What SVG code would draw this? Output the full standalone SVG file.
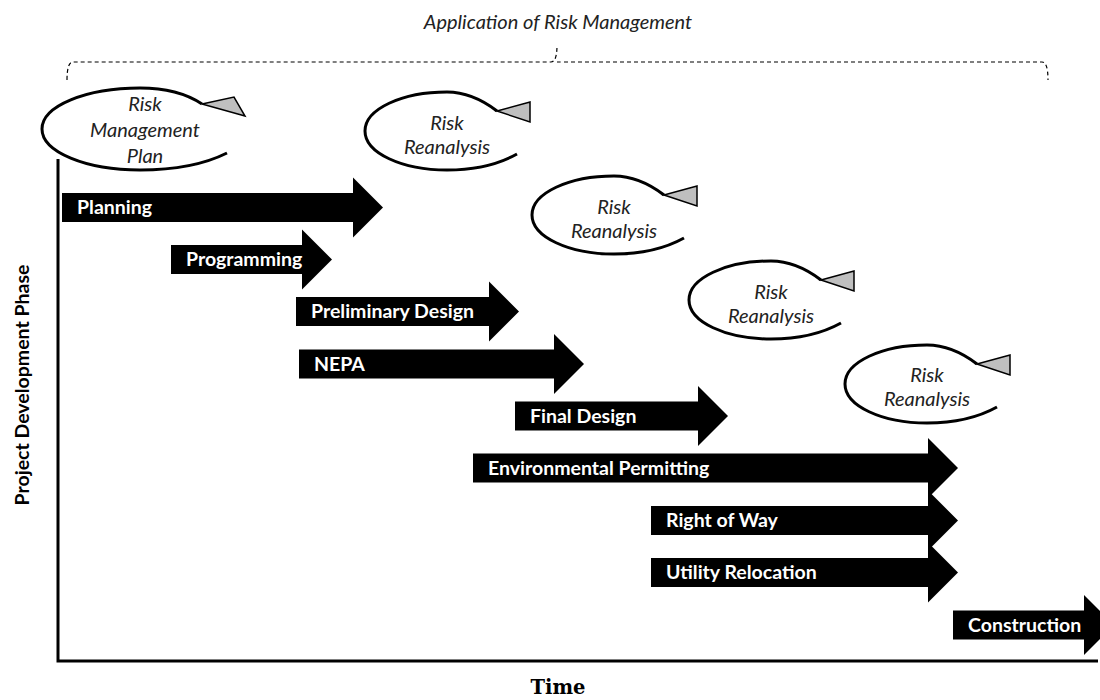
<svg xmlns="http://www.w3.org/2000/svg" xmlns:xlink="http://www.w3.org/1999/xlink" width="1100" height="700" viewBox="0 0 1100 700">
<style>
.phase{fill:#000}
.plabel{font-family:Lato,"Liberation Sans",sans-serif;font-weight:700;font-size:19.5px;fill:#fff}
.loop{fill:none;stroke:#000;stroke-width:3}
.loophead{fill:#bfbfbf;stroke:#000;stroke-width:1.5}
.ltext{font-family:Lato,"Liberation Sans",sans-serif;font-style:italic;font-size:20px;fill:#222;text-anchor:middle}
.axis{fill:none;stroke:#000;stroke-width:3}
.brace{fill:none;stroke:#000;stroke-width:1.2;stroke-dasharray:4 3}
.title{font-family:Lato,"Liberation Sans",sans-serif;font-style:italic;font-size:20px;fill:#222;text-anchor:middle}
.ylabel{font-family:Lato,"Liberation Sans",sans-serif;font-weight:700;font-size:19.5px;fill:#000;text-anchor:middle}
.xlabel{font-family:"DejaVu Serif",serif;font-weight:700;font-size:19.5px;fill:#000;text-anchor:middle}
</style>
<defs>
<g id="reloop">
<path class="loop" d="M 50 -20 C 33 -33, 18 -39, 0 -39 C -45 -39, -82 -22, -82 0 C -82 22, -45 39, 0 39 C 30 39, 52 33, 70 23"/>
<polygon class="loophead" points="50,-20 83,-29 83,-9"/>
</g>
</defs>

<g id="bracket">
<text class="title" x="558" y="29">Application of Risk Management</text>
<path class="brace" d="M 67 80 Q 67 62 73 62 H 551 Q 557 62 557 45 M 557 62 Q 557 62 563 62 H 1042 Q 1048 62 1048 80"/>
</g>

<g id="axes">
<polyline class="axis" points="58,159 58,661 1098,661"/>
<text class="ylabel" transform="translate(29,385) rotate(-90)">Project Development Phase</text>
<text class="xlabel" x="558" y="694">Time</text>
</g>

<g id="risk-management-plan">
<path class="loop" d="M 202 104 C 184 92, 162 88, 140 88 C 86 88, 42 106, 42 129 C 42 152, 86 170, 140 170 C 175 170, 205 164, 227 153"/>
<polygon class="loophead" points="202,104 234,97 245,116"/>
<text class="ltext" x="145" y="111">Risk</text>
<text class="ltext" x="145" y="137">Management</text>
<text class="ltext" x="145" y="163">Plan</text>
</g>

<g id="risk-reanalysis-1">
<use xlink:href="#reloop" href="#reloop" x="447" y="131"/>
<text class="ltext" x="447" y="130">Risk</text>
<text class="ltext" x="447" y="154">Reanalysis</text>
</g>
<g id="risk-reanalysis-2">
<use xlink:href="#reloop" href="#reloop" x="614" y="215"/>
<text class="ltext" x="614" y="214">Risk</text>
<text class="ltext" x="614" y="238">Reanalysis</text>
</g>
<g id="risk-reanalysis-3">
<use xlink:href="#reloop" href="#reloop" x="771" y="300"/>
<text class="ltext" x="771" y="299">Risk</text>
<text class="ltext" x="771" y="323">Reanalysis</text>
</g>
<g id="risk-reanalysis-4">
<use xlink:href="#reloop" href="#reloop" x="927" y="384"/>
<text class="ltext" x="927" y="382">Risk</text>
<text class="ltext" x="927" y="406">Reanalysis</text>
</g>

<g id="planning">
<polygon class="phase" points="62,193 353,193 353,177.5 383,207.5 353,237.5 353,222 62,222"/>
<text class="plabel" x="77" y="214">Planning</text>
</g>
<g id="programming">
<polygon class="phase" points="171,245 302,245 302,229.5 332,259.5 302,289.5 302,274 171,274"/>
<text class="plabel" x="186" y="266">Programming</text>
</g>
<g id="preliminary-design">
<polygon class="phase" points="296,297 489,297 489,281.5 519,311.5 489,341.5 489,326 296,326"/>
<text class="plabel" x="311" y="318">Preliminary Design</text>
</g>
<g id="nepa">
<polygon class="phase" points="299,349.5 554,349.5 554,334 584,364 554,394 554,378.5 299,378.5"/>
<text class="plabel" x="314" y="370.5">NEPA</text>
</g>
<g id="final-design">
<polygon class="phase" points="515,401.5 698,401.5 698,386 728,416 698,446 698,430.5 515,430.5"/>
<text class="plabel" x="530" y="422.5">Final Design</text>
</g>
<g id="environmental-permitting">
<polygon class="phase" points="473,453.5 928,453.5 928,438 958,468 928,498 928,482.5 473,482.5"/>
<text class="plabel" x="488" y="474.5">Environmental Permitting</text>
</g>
<g id="right-of-way">
<polygon class="phase" points="651,506 928,506 928,490.5 958,520.5 928,550.5 928,535 651,535"/>
<text class="plabel" x="666" y="527">Right of Way</text>
</g>
<g id="utility-relocation">
<polygon class="phase" points="651,558 928,558 928,542.5 958,572.5 928,602.5 928,587 651,587"/>
<text class="plabel" x="666" y="579">Utility Relocation</text>
</g>
<g id="construction">
<polygon class="phase" points="953,610.5 1084,610.5 1084,595 1114,625 1084,655 1084,639.5 953,639.5"/>
<text class="plabel" x="968" y="631.5">Construction</text>
</g>
</svg>
